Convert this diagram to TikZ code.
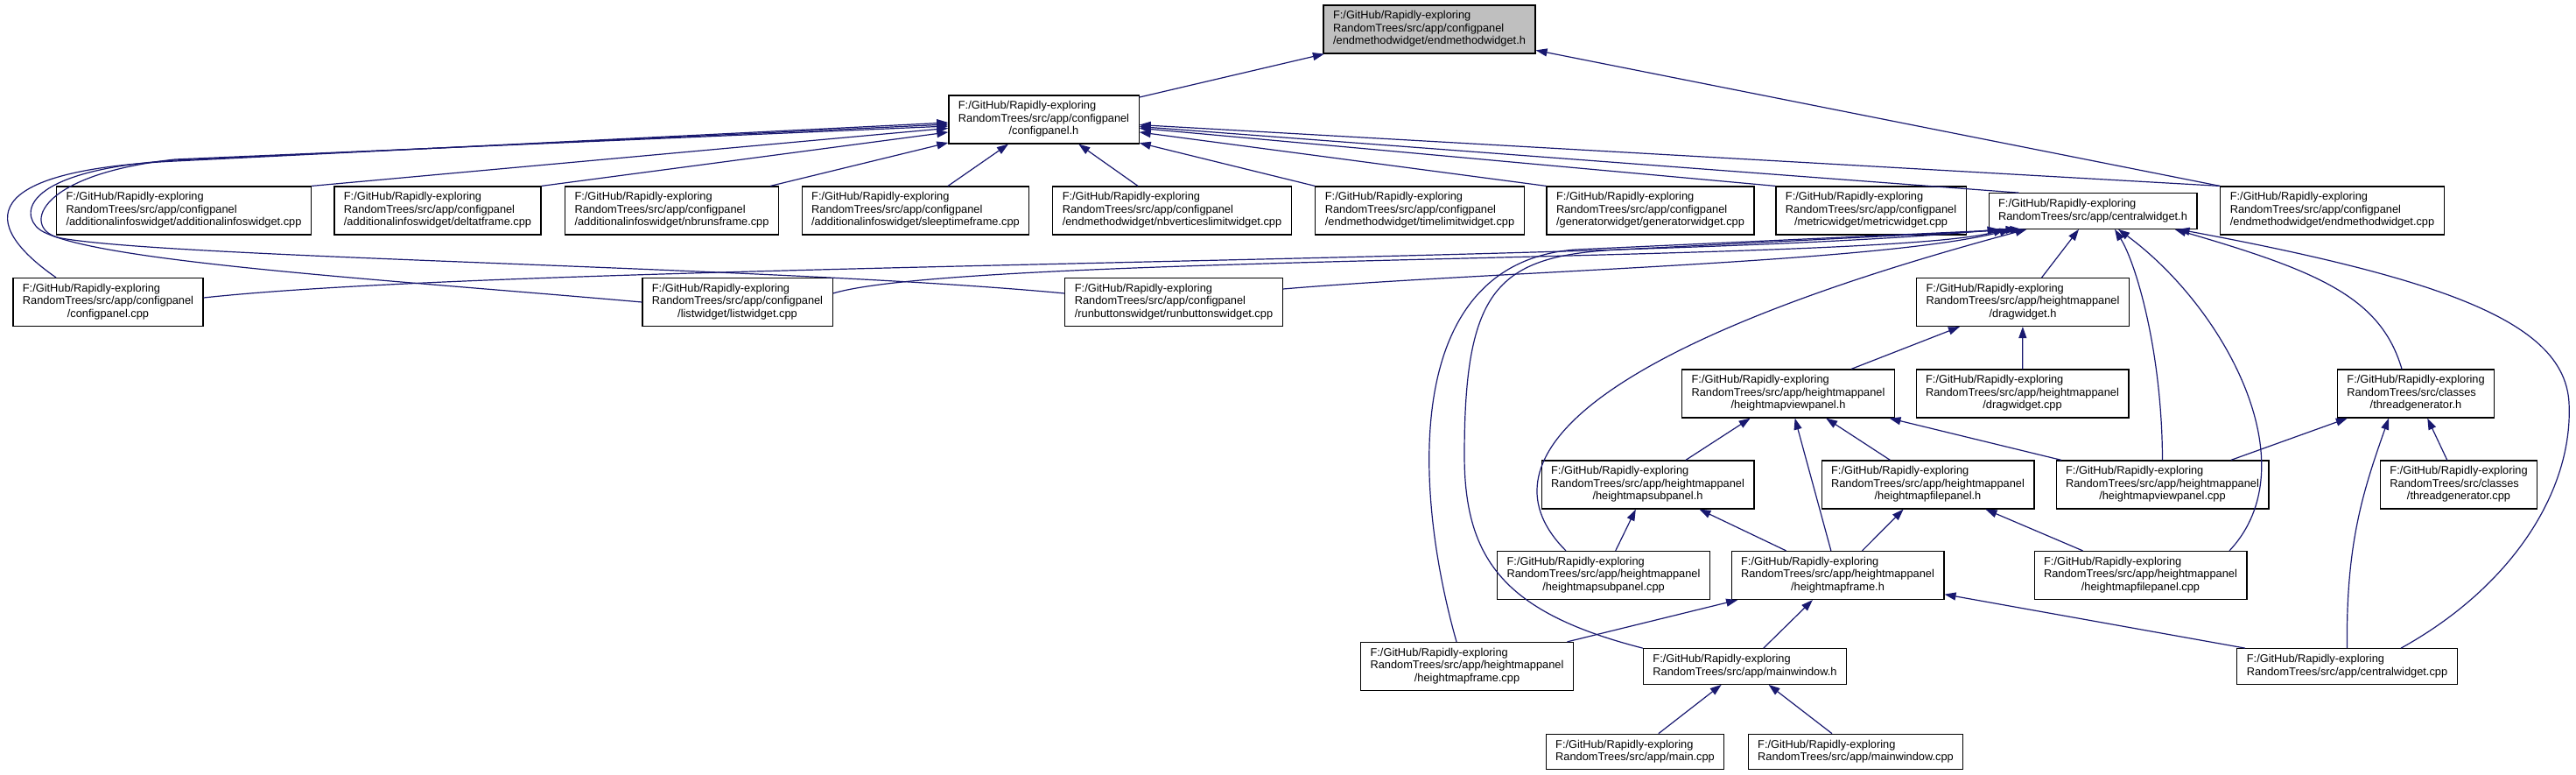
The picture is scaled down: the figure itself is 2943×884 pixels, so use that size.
\documentclass[tikz,border=0pt]{standalone}
\usepackage{fontspec}
\setmainfont{Liberation Sans}
\usetikzlibrary{arrows.meta}
\definecolor{edgeblue}{RGB}{25,25,112}
\definecolor{rootgray}{RGB}{191,191,191}
\newcommand{\lblthree}[3]{\begin{tabular}{@{}l@{}}#1\\#2\\\multicolumn{1}{@{}c@{}}{#3}\end{tabular}}
\newcommand{\lbltwo}[2]{\begin{tabular}{@{}l@{}}#1\\\multicolumn{1}{@{}c@{}}{#2}\end{tabular}}
\newcommand{\ghroot}{F:/GitHub/Rapidly-exploring}
\newcommand{\cfgdir}{RandomTrees/src/app/configpanel}
\newcommand{\hmpdir}{RandomTrees/src/app/heightmappanel}

\begin{document}
\begin{tikzpicture}[
  x=1pt,y=-1pt,
  every node/.style={font=\fontsize{12.8}{14.5}\selectfont},
  box/.style={draw,line width=1.2pt,fill=white,inner xsep=11pt,inner ysep=5.75pt},
  root/.style={box,fill=rootgray},
  arr/.style={-{Triangle[length=13pt,width=9pt]},line width=1.2pt,edgeblue}
]
\useasboundingbox (0,0) rectangle (2943,884);
% headers and sources
\node[root] (endh) at (1633,33.5) {\lblthree{\ghroot}{\cfgdir}{/endmethodwidget/endmethodwidget.h}};
\node[box] (panelh) at (1192.5,136.5) {\lblthree{\ghroot}{\cfgdir}{/configpanel.h}};
\node[box] (addinfo) at (210,240.5) {\lblthree{\ghroot}{\cfgdir}{/additionalinfoswidget/additionalinfoswidget.cpp}};
\node[box] (deltat) at (500,240.5) {\lblthree{\ghroot}{\cfgdir}{/additionalinfoswidget/deltatframe.cpp}};
\node[box] (nbruns) at (767.5,240.5) {\lblthree{\ghroot}{\cfgdir}{/additionalinfoswidget/nbrunsframe.cpp}};
\node[box] (sleep) at (1046,240.5) {\lblthree{\ghroot}{\cfgdir}{/additionalinfoswidget/sleeptimeframe.cpp}};
\node[box] (nbvert) at (1339,240.5) {\lblthree{\ghroot}{\cfgdir}{/endmethodwidget/nbverticeslimitwidget.cpp}};
\node[box] (timelim) at (1622,240.5) {\lblthree{\ghroot}{\cfgdir}{/endmethodwidget/timelimitwidget.cpp}};
\node[box] (gen) at (1885.5,240.5) {\lblthree{\ghroot}{\cfgdir}{/generatorwidget/generatorwidget.cpp}};
\node[box] (metric) at (2137.5,240.5) {\lblthree{\ghroot}{\cfgdir}{/metricwidget/metricwidget.cpp}};
\node[box] (centralh) at (2391,241) {\lbltwo{\ghroot}{RandomTrees/src/app/centralwidget.h}};
\node[box] (endcpp) at (2664.5,240.5) {\lblthree{\ghroot}{\cfgdir}{/endmethodwidget/endmethodwidget.cpp}};
\node[box] (panelcpp) at (123.5,345) {\lblthree{\ghroot}{\cfgdir}{/configpanel.cpp}};
\node[box] (list) at (842.5,345) {\lblthree{\ghroot}{\cfgdir}{/listwidget/listwidget.cpp}};
\node[box] (runbtn) at (1341,345) {\lblthree{\ghroot}{\cfgdir}{/runbuttonswidget/runbuttonswidget.cpp}};
\node[box] (dragh) at (2311,345) {\lblthree{\ghroot}{\hmpdir}{/dragwidget.h}};
\node[box] (viewh) at (2043,449.5) {\lblthree{\ghroot}{\hmpdir}{/heightmapviewpanel.h}};
\node[box] (dragcpp) at (2310.5,449.5) {\lblthree{\ghroot}{\hmpdir}{/dragwidget.cpp}};
\node[box] (threadh) at (2760,449.5) {\lblthree{\ghroot}{RandomTrees/src/classes}{/threadgenerator.h}};
\node[box] (subh) at (1882.5,553.5) {\lblthree{\ghroot}{\hmpdir}{/heightmapsubpanel.h}};
\node[box] (fileh) at (2202.5,553.5) {\lblthree{\ghroot}{\hmpdir}{/heightmapfilepanel.h}};
\node[box] (viewcpp) at (2470.5,553.5) {\lblthree{\ghroot}{\hmpdir}{/heightmapviewpanel.cpp}};
\node[box] (threadcpp) at (2809,553.5) {\lblthree{\ghroot}{RandomTrees/src/classes}{/threadgenerator.cpp}};
\node[box] (subcpp) at (1832,657) {\lblthree{\ghroot}{\hmpdir}{/heightmapsubpanel.cpp}};
\node[box] (frameh) at (2099.5,657) {\lblthree{\ghroot}{\hmpdir}{/heightmapframe.h}};
\node[box] (filecpp) at (2445.5,657) {\lblthree{\ghroot}{\hmpdir}{/heightmapfilepanel.cpp}};
\node[box] (framecpp) at (1676,761) {\lblthree{\ghroot}{\hmpdir}{/heightmapframe.cpp}};
\node[box] (mainwinh) at (1993.5,761) {\lbltwo{\ghroot}{RandomTrees/src/app/mainwindow.h}};
\node[box] (centralcpp) at (2681.5,761) {\lbltwo{\ghroot}{RandomTrees/src/app/centralwidget.cpp}};
\node[box] (maincpp) at (1868,858.5) {\lbltwo{\ghroot}{RandomTrees/src/app/main.cpp}};
\node[box] (mainwincpp) at (2120,858.5) {\lbltwo{\ghroot}{RandomTrees/src/app/mainwindow.cpp}};
% includes of endmethodwidget.h
\draw[arr] (panelh) -- (endh);
\draw[arr] (endcpp.north west) -- (endh);
% includes of configpanel.h
\draw[arr] ([xshift=-59.5pt]panelcpp.north) .. controls (-25,255) and (-25,195) .. (200,184) -- ([yshift=-3.5pt]panelh.west);
\draw[arr] (list.west) .. controls (450,320) and (120,300) .. (50,265) .. controls (22,251) and (15,195) .. (200,183) -- ([yshift=-5.5pt]panelh.west);
\draw[arr] ([yshift=10pt]runbtn.west) .. controls (900,305) and (200,295) .. (70,272) .. controls (25,264) and (35,200) .. (200,182) -- ([yshift=-7.5pt]panelh.west);
\draw[arr] (addinfo.north east) -- (panelh);
\draw[arr] (deltat.north east) -- (panelh);
\draw[arr] ([xshift=-10pt]nbruns.north east) -- (panelh);
\draw[arr] ([xshift=37pt]sleep.north) -- (panelh);
\draw[arr] ([xshift=-39pt]nbvert.north) -- (panelh);
\draw[arr] (timelim.north west) -- (panelh);
\draw[arr] (gen.north west) -- (panelh);
\draw[arr] (metric.north west) -- (panelh);
\draw[arr] ([xshift=35pt]centralh.north west) -- (panelh);
\draw[arr] (endcpp.north west) -- (panelh);
% includes of centralwidget.h
\draw[arr] ([yshift=5pt]panelcpp.east) .. controls (600,300) and (1900,300) .. ([xshift=12pt]centralh.south west);
\draw[arr] ([yshift=10pt]list.east) .. controls (1100,290) and (2150,300) .. ([xshift=19pt]centralh.south west);
\draw[arr] ([yshift=15pt]runbtn.east) .. controls (1700,310) and (2150,300) .. ([xshift=26pt]centralh.south west);
\draw[arr] ([xshift=-12pt]framecpp.north) .. controls (1615,560) and (1600,300) .. (1800,285) -- ([xshift=33pt]centralh.south west);
\draw[arr] (mainwinh.north west) .. controls (1720,700) and (1673,640) .. (1673,520) .. controls (1673,330) and (1710,292) .. (1850,285) -- ([xshift=38pt]centralh.south west);
\draw[arr] ([xshift=-43pt]subcpp.north) .. controls (1690,530) and (1800,400) .. ([xshift=44pt]centralh.south west);
\draw[arr] (dragh) -- (centralh);
\draw[arr] (viewcpp.north) .. controls (2470,400) and (2440,300) .. ([xshift=25pt]centralh.south);
\draw[arr] ([xshift=101.5pt]filecpp.north) .. controls (2640,530) and (2540,350) .. ([xshift=29pt]centralh.south);
\draw[arr] ([xshift=-16pt]threadh.north) .. controls (2720,340) and (2650,310) .. ([xshift=-26pt]centralh.south east);
\draw[arr] ([xshift=61.5pt]centralcpp.north) .. controls (2870,670) and (2940,560) .. (2935,460) .. controls (2930,370) and (2800,320) .. ([xshift=-22pt]centralh.south east);
% includes of dragwidget.h and threadgenerator.h
\draw[arr] (viewh) -- (dragh);
\draw[arr] (dragcpp) -- (dragh);
\draw[arr] (viewcpp) -- (threadh);
\draw[arr] (centralcpp.north) .. controls (2680,620) and (2700,560) .. ([xshift=-31pt]threadh.south);
\draw[arr] (threadcpp) -- (threadh);
% heightmap panels
\draw[arr] (subh) -- (viewh);
\draw[arr] (frameh) -- (viewh);
\draw[arr] (fileh) -- (viewh);
\draw[arr] (viewcpp) -- (viewh);
\draw[arr] (subcpp) -- (subh);
\draw[arr] (frameh) -- (subh);
\draw[arr] (frameh) -- (fileh);
\draw[arr] (filecpp) -- (fileh);
\draw[arr] (framecpp) -- (frameh);
\draw[arr] (mainwinh) -- (frameh);
\draw[arr] (centralcpp) -- (frameh);
\draw[arr] (maincpp) -- (mainwinh);
\draw[arr] (mainwincpp) -- (mainwinh);
\end{tikzpicture}
\end{document}
